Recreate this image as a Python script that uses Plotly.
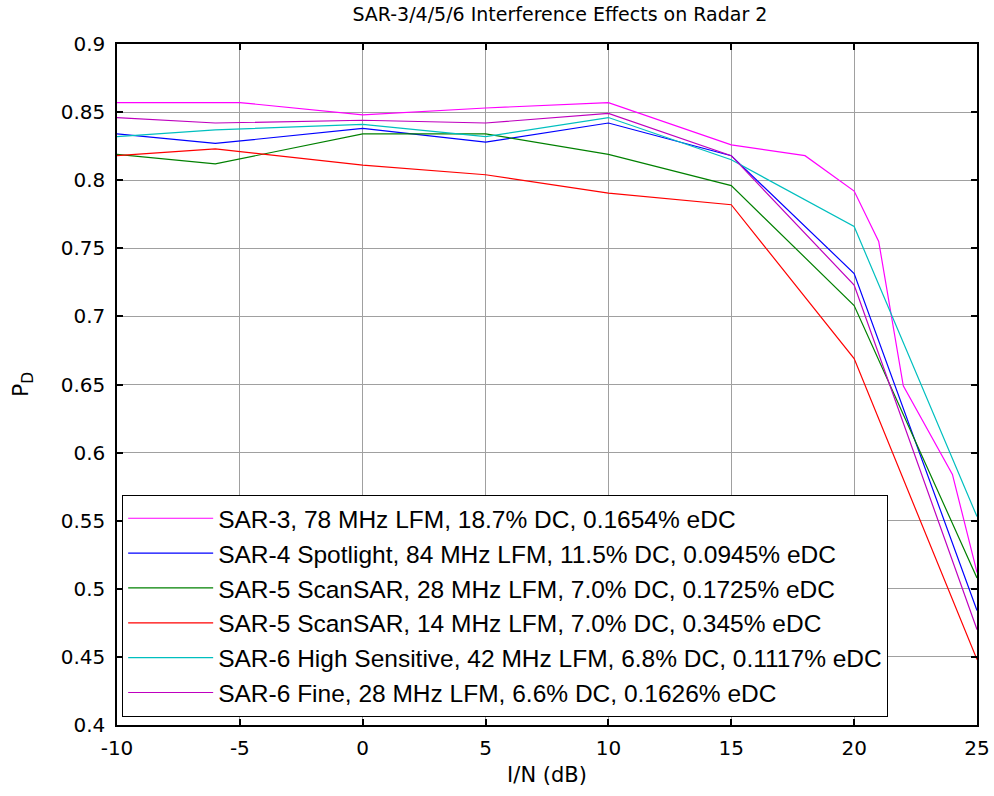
import plotly.graph_objects as go

# ---- data ----
x_sar3 = [-10, -5, 0, 5, 10, 15, 18, 20, 21, 22, 24, 25]
y_sar3 = [0.857, 0.857, 0.848, 0.853, 0.857, 0.826, 0.818, 0.792, 0.755, 0.649, 0.584, 0.512]

x_common = [-10, -6, 0, 5, 10, 15, 20, 25]
y_sar4 = [0.834, 0.827, 0.838, 0.828, 0.842, 0.818, 0.7315, 0.484]
y_sar5_28 = [0.819, 0.812, 0.834, 0.834, 0.819, 0.796, 0.708, 0.508]
y_sar5_14 = [0.818, 0.823, 0.811, 0.804, 0.7905, 0.782, 0.669, 0.448]
y_sar6_hs = [0.832, 0.837, 0.841, 0.832, 0.846, 0.815, 0.766, 0.553]
y_sar6_fine = [0.846, 0.842, 0.844, 0.842, 0.849, 0.818, 0.723, 0.470]

names = [
    "SAR-3, 78 MHz LFM, 18.7% DC, 0.1654% eDC",
    "SAR-4 Spotlight, 84 MHz LFM, 11.5% DC, 0.0945% eDC",
    "SAR-5 ScanSAR, 28 MHz LFM, 7.0% DC, 0.1725% eDC",
    "SAR-5 ScanSAR, 14 MHz LFM, 7.0% DC, 0.345% eDC",
    "SAR-6 High Sensitive, 42 MHz LFM, 6.8% DC, 0.1117% eDC",
    "SAR-6 Fine, 28 MHz LFM, 6.6% DC, 0.1626% eDC",
]
colors = ["#ff00ff", "#0000ff", "#008000", "#ff0000", "#00bfbf", "#bf00bf"]

x_tickvals = [-10, -5, 0, 5, 10, 15, 20, 25]
x_ticktext = ["-10", "-5", "0", "5", "10", "15", "20", "25"]
y_tickvals = [0.4, 0.45, 0.5, 0.55, 0.6, 0.65, 0.7, 0.75, 0.8, 0.85, 0.9]
y_ticktext = ["0.4", "0.45", "0.5", "0.55", "0.6", "0.65", "0.7", "0.75", "0.8", "0.85", "0.9"]

series = [
    (x_sar3, y_sar3),
    (x_common, y_sar4),
    (x_common, y_sar5_28),
    (x_common, y_sar5_14),
    (x_common, y_sar6_hs),
    (x_common, y_sar6_fine),
]

FONT = "DejaVu Sans"
LEG_FONT = "Liberation Sans"

fig = go.Figure()
for (xs, ys), nm, c in zip(series, names, colors):
    fig.add_trace(go.Scatter(x=xs, y=ys, mode="lines", name=nm,
                             line=dict(color=c, width=1.2)))

axis_common = dict(
    showline=True, linecolor="black", linewidth=1.5, mirror="ticks",
    ticks="inside", ticklen=6, tickcolor="black", tickwidth=1.5,
    showgrid=True, gridcolor="#a0a0a0", gridwidth=1,
    zeroline=False, automargin=False,
    tickfont=dict(family=FONT, size=20, color="black"),
)

fig.update_layout(
    width=994, height=796,
    margin=dict(l=117, r=17, t=44, b=71),
    paper_bgcolor="white", plot_bgcolor="white",
    font=dict(family=FONT, color="black"),
    title=dict(text="SAR-3/4/5/6 Interference Effects on Radar 2",
               font=dict(family=FONT, size=19, color="black"),
               x=0.515, xref="paper", xanchor="center",
               y=0.982, yref="container", yanchor="middle"),
    xaxis=dict(range=[-10, 25], tickvals=x_tickvals, ticktext=x_ticktext,
               ticklabelstandoff=4,
               title=dict(text="I/N (dB)", font=dict(family=FONT, size=21), standoff=9),
               **axis_common),
    yaxis=dict(range=[0.4, 0.9], tickvals=y_tickvals, ticktext=y_ticktext,
               ticklabelstandoff=6,
               title=dict(text="P<sub>D</sub>", font=dict(family=FONT, size=22), standoff=26),
               **axis_common),
    legend=dict(x=0.006, y=0.012, xanchor="left", yanchor="bottom",
                bgcolor="white", bordercolor="black", borderwidth=1,
                font=dict(family=LEG_FONT, size=24.5, color="black"),
                itemwidth=85, tracegroupgap=0),
    showlegend=True,
)

fig.write_html("out.html")
